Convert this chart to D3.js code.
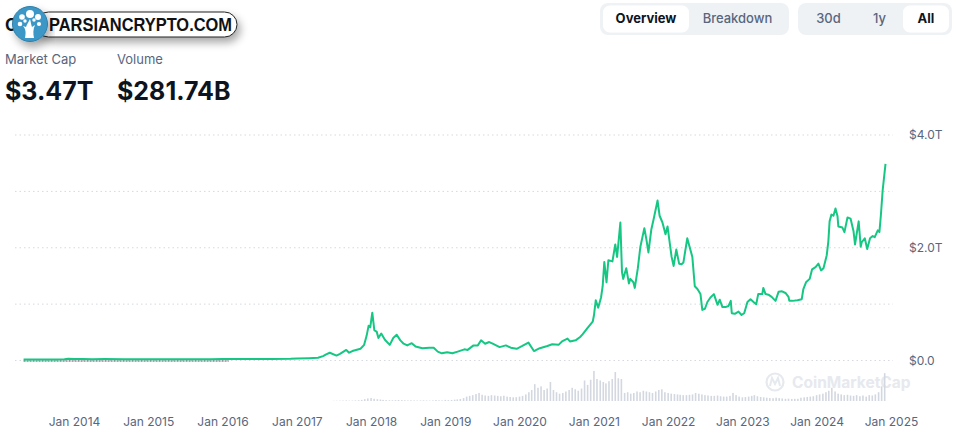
<!DOCTYPE html>
<html>
<head>
<meta charset="utf-8">
<script src="https://cdn.jsdelivr.net/npm/d3@7"></script>
<style>
  body { margin: 0; background: #fff; font-family: Inter, "Noto Sans", sans-serif; }
</style>
</head>
<body>
<svg id="chart" width="956" height="442"></svg>
<script>
// total market cap, trillions of USD
const marketCap = [
  ["2013-04-28", 0.0015], ["2013-07-01", 0.0012], ["2013-10-01", 0.0018], ["2013-11-15", 0.006],
  ["2013-12-04", 0.015], ["2014-01-01", 0.010], ["2014-02-15", 0.009], ["2014-04-01", 0.006],
  ["2014-06-01", 0.008], ["2014-09-01", 0.006], ["2014-12-01", 0.0055], ["2015-01-15", 0.0035],
  ["2015-06-01", 0.0035], ["2015-11-05", 0.006], ["2016-01-01", 0.007], ["2016-06-15", 0.011],
  ["2016-09-01", 0.0095], ["2016-12-01", 0.012], ["2017-01-01", 0.018], ["2017-03-01", 0.023],
  ["2017-04-15", 0.03], ["2017-05-10", 0.06], ["2017-05-25", 0.09], ["2017-06-12", 0.12],
  ["2017-07-15", 0.07], ["2017-08-01", 0.10], ["2017-09-01", 0.17], ["2017-09-15", 0.12],
  ["2017-10-01", 0.15], ["2017-11-10", 0.19], ["2017-11-28", 0.26], ["2017-12-10", 0.42],
  ["2017-12-20", 0.60], ["2017-12-28", 0.57], ["2018-01-07", 0.83], ["2018-01-17", 0.52],
  ["2018-01-29", 0.49], ["2018-02-06", 0.38], ["2018-02-20", 0.46], ["2018-03-10", 0.35],
  ["2018-04-03", 0.26], ["2018-04-20", 0.38], ["2018-05-07", 0.44], ["2018-05-25", 0.34],
  ["2018-06-10", 0.28], ["2018-06-28", 0.25], ["2018-07-20", 0.29], ["2018-08-08", 0.23],
  ["2018-09-10", 0.20], ["2018-10-15", 0.21], ["2018-11-05", 0.21], ["2018-11-25", 0.14],
  ["2018-12-15", 0.11], ["2019-01-10", 0.13], ["2019-02-05", 0.11], ["2019-03-03", 0.14],
  ["2019-04-05", 0.18], ["2019-04-21", 0.17], ["2019-05-20", 0.25], ["2019-06-10", 0.25],
  ["2019-06-26", 0.34], ["2019-07-16", 0.28], ["2019-08-05", 0.31], ["2019-08-22", 0.28],
  ["2019-09-25", 0.22], ["2019-10-26", 0.25], ["2019-11-19", 0.21], ["2019-12-18", 0.19],
  ["2020-01-15", 0.24], ["2020-02-14", 0.30], ["2020-03-12", 0.15], ["2020-03-19", 0.16],
  ["2020-04-10", 0.20], ["2020-05-17", 0.24], ["2020-06-10", 0.27], ["2020-07-11", 0.26],
  ["2020-07-28", 0.32], ["2020-08-24", 0.37], ["2020-09-05", 0.32], ["2020-10-03", 0.34],
  ["2020-10-25", 0.40], ["2020-11-07", 0.45], ["2020-12-01", 0.56], ["2020-12-26", 0.67],
  ["2021-01-01", 0.78], ["2021-01-10", 1.05], ["2021-01-22", 0.92], ["2021-02-05", 1.10],
  ["2021-02-13", 1.30], ["2021-02-21", 1.73], ["2021-03-04", 1.37], ["2021-03-13", 1.76],
  ["2021-04-02", 1.74], ["2021-04-16", 2.04], ["2021-04-25", 1.82], ["2021-05-11", 2.43],
  ["2021-05-19", 1.55], ["2021-05-25", 1.43], ["2021-06-09", 1.62], ["2021-06-22", 1.35],
  ["2021-06-29", 1.43], ["2021-07-14", 1.37], ["2021-07-21", 1.27], ["2021-08-05", 1.62],
  ["2021-08-17", 1.99], ["2021-09-06", 2.33], ["2021-09-16", 2.13], ["2021-09-26", 1.90],
  ["2021-10-10", 2.30], ["2021-10-21", 2.48], ["2021-11-10", 2.82], ["2021-11-20", 2.55],
  ["2021-12-04", 2.43], ["2021-12-19", 2.22], ["2021-12-29", 2.36], ["2022-01-18", 1.82],
  ["2022-01-28", 1.66], ["2022-02-10", 1.95], ["2022-02-24", 1.70], ["2022-03-08", 1.69],
  ["2022-03-17", 1.72], ["2022-04-05", 2.15], ["2022-04-20", 1.95], ["2022-04-30", 1.82],
  ["2022-05-12", 1.30], ["2022-05-25", 1.25], ["2022-06-09", 1.16], ["2022-06-18", 0.88],
  ["2022-07-01", 0.90], ["2022-07-13", 1.02], ["2022-07-28", 1.10], ["2022-08-14", 1.16],
  ["2022-09-01", 0.97], ["2022-09-12", 1.06], ["2022-09-25", 0.93], ["2022-10-10", 0.93],
  ["2022-10-25", 0.95], ["2022-11-05", 1.04], ["2022-11-10", 0.82], ["2022-11-25", 0.81],
  ["2022-12-13", 0.85], ["2022-12-28", 0.79], ["2023-01-10", 0.82], ["2023-01-26", 1.02],
  ["2023-02-10", 1.07], ["2023-02-25", 1.02], ["2023-03-10", 0.98], ["2023-03-20", 1.16],
  ["2023-04-09", 1.16], ["2023-04-14", 1.27], ["2023-04-25", 1.16], ["2023-05-09", 1.15],
  ["2023-05-25", 1.11], ["2023-06-13", 1.04], ["2023-06-28", 1.20], ["2023-07-15", 1.21],
  ["2023-08-01", 1.18], ["2023-08-16", 1.11], ["2023-08-20", 1.04], ["2023-09-05", 1.04],
  ["2023-09-29", 1.05], ["2023-10-20", 1.07], ["2023-10-28", 1.25], ["2023-11-10", 1.37],
  ["2023-11-28", 1.43], ["2023-12-10", 1.60], ["2023-12-27", 1.64], ["2024-01-10", 1.70],
  ["2024-01-23", 1.58], ["2024-02-04", 1.62], ["2024-02-20", 1.85], ["2024-02-28", 2.10],
  ["2024-03-05", 2.45], ["2024-03-14", 2.57], ["2024-03-24", 2.55], ["2024-04-03", 2.68],
  ["2024-04-13", 2.54], ["2024-04-17", 2.36], ["2024-05-07", 2.34], ["2024-05-17", 2.26],
  ["2024-06-01", 2.52], ["2024-06-16", 2.50], ["2024-07-01", 2.27], ["2024-07-08", 2.04],
  ["2024-07-26", 2.45], ["2024-08-05", 2.00], ["2024-08-10", 2.08], ["2024-08-25", 2.15],
  ["2024-09-06", 1.96], ["2024-09-20", 2.15], ["2024-10-03", 2.19], ["2024-10-13", 2.17],
  ["2024-10-28", 2.29], ["2024-11-05", 2.26], ["2024-11-12", 2.55], ["2024-11-21", 3.00],
  ["2024-12-05", 3.47]
];

// trading volume, billions of USD, read twice a month (1st and 16th) from Jul 2017
const volumeStart = "2017-07-01";
const volumeValues = [
  3, 4, 5, 6, 8, 5, 6, 8, 10, 15, 25, 35,
  40, 30, 25, 20, 15, 12, 10, 10, 12, 14, 12, 10, 8, 9, 8, 7, 8, 9, 7, 6, 8, 12, 9, 8,
  15, 12, 14, 18, 22, 28, 40, 60, 70, 80, 95, 110, 85, 75, 70, 80, 75, 70, 65, 72, 60, 55, 50, 52,
  60, 70, 90, 120, 150, 230, 180, 200, 150, 170, 260, 150, 120, 100, 110, 130, 150, 180, 160, 140, 170, 280, 220, 290,
  410, 300, 280, 260, 240, 270, 300, 395, 310, 300, 110, 120, 100, 110, 130, 120, 140, 130, 120, 110, 130, 150, 160, 120,
  110, 100, 95, 90, 85, 80, 80, 85, 90, 110, 100, 90, 80, 75, 70, 70, 75, 65, 60, 60, 70, 110, 80, 60,
  50, 55, 60, 70, 80, 65, 55, 50, 45, 40, 38, 45, 40, 35, 30, 32, 28, 30, 30, 45, 50, 55, 60, 65,
  80, 90, 100, 120, 140, 180, 130, 100, 90, 80, 85, 75, 70, 80, 65, 75, 60, 80, 75, 90, 120, 200, 380
];

const yearTicks = [2014, 2015, 2016, 2017, 2018, 2019, 2020, 2021, 2022, 2023, 2024, 2025];
const capLabels = [0, 2, 4];
const capGrid = [0, 1, 2, 3, 4];
const summaryLabels = ["Market Cap", "Volume"];
const summaryValues = ["$3.47T", "$281.74B"];
const viewTabs = ["Overview", "Breakdown"];
const rangeTabs = ["30d", "1y", "All"];

const parse = d3.timeParse("%Y-%m-%d");
const capData = marketCap.map(d => ({ date: parse(d[0]), value: d[1] }));
const volData = volumeValues.map((v, i) => {
  const d = d3.timeMonth.offset(parse(volumeStart), Math.floor(i / 2));
  d.setDate(i % 2 ? 16 : 1);
  return { date: d, value: v };
});

const svg = d3.select("#chart");
const grey = "#58667e";

const x = d3.scaleTime()
  .domain([new Date(2014, 0, 1), new Date(2025, 0, 1)])
  .range([74, 891]);
const y = d3.scaleLinear().domain([0, 4]).range([360.5, 135]);
const yVol = d3.scaleLinear().domain([0, 450]).range([401, 368]);

// grid lines
svg.append("g").selectAll("line").data(capGrid).join("line")
  .attr("x1", 15).attr("x2", 893)
  .attr("y1", d => y(d)).attr("y2", d => y(d))
  .attr("stroke", "#d5d9e0").attr("stroke-width", 1)
  .attr("stroke-dasharray", "1.5,3");

// watermark
const wm = svg.append("g");
wm.append("circle").attr("cx", 775).attr("cy", 382).attr("r", 8.5)
  .attr("fill", "none").attr("stroke", "#e6e9ee").attr("stroke-width", 2.2);
wm.append("path").attr("d", "M770,386 L772,378 L775,384 L778,378 L780,386")
  .attr("fill", "none").attr("stroke", "#e6e9ee").attr("stroke-width", 2);
wm.append("text").attr("x", 792).attr("y", 388)
  .attr("font-size", 15.5).attr("font-weight", 700).attr("fill", "#e6e9ee")
  .text("CoinMarketCap");

// volume bars
svg.append("g").selectAll("rect").data(volData).join("rect")
  .attr("x", d => x(d.date) - 0.8)
  .attr("width", 1.6)
  .attr("y", d => yVol(d.value))
  .attr("height", d => yVol(0) - yVol(d.value))
  .attr("fill", "#d3d8e0");

// early baseline
svg.append("line")
  .attr("x1", x(capData[0].date)).attr("x2", x(new Date(2016, 1, 1)))
  .attr("y1", y(0) + 0.5).attr("y2", y(0) + 0.5)
  .attr("stroke", "#4a4f57").attr("stroke-width", 1.2)
  .attr("stroke-dasharray", "2,1");

// market cap line
svg.append("path").datum(capData)
  .attr("fill", "none")
  .attr("stroke", "#16c784")
  .attr("stroke-width", 2)
  .attr("stroke-linejoin", "round")
  .attr("d", d3.line().x(d => x(d.date)).y(d => y(d.value) - 1));

// x axis
const xAxis = svg.append("g")
  .attr("transform", "translate(0,414)")
  .call(d3.axisBottom(x)
    .tickValues(yearTicks.map(yr => new Date(yr, 0, 1)))
    .tickFormat(d3.timeFormat("Jan %Y"))
    .tickSize(0));
xAxis.select(".domain").remove();
xAxis.selectAll("text").attr("font-family", "Inter, sans-serif")
  .attr("font-size", 12).attr("fill", grey);

// y axis
const yAxis = svg.append("g")
  .attr("transform", "translate(906,0)")
  .call(d3.axisRight(y)
    .tickValues(capLabels)
    .tickFormat(d => d === 0 ? "$0.0" : "$" + d.toFixed(1) + "T")
    .tickSize(0));
yAxis.select(".domain").remove();
yAxis.selectAll("text").attr("font-family", "Inter, sans-serif")
  .attr("font-size", 12).attr("fill", grey);

// summary numbers
const sx = [5, 117];
summaryLabels.forEach((t, i) => {
  svg.append("text").attr("x", sx[i]).attr("y", 64)
    .attr("font-size", 13).attr("fill", grey).text(t);
  svg.append("text").attr("x", sx[i]).attr("y", 100)
    .attr("font-size", 25).attr("font-weight", 700).attr("fill", "#0d1421")
    .text(summaryValues[i]);
});

// tabs
function tabGroup(labels, x0, widths, active) {
  const total = d3.sum(widths) + 6;
  svg.append("rect").attr("x", x0).attr("y", 3).attr("width", total).attr("height", 32)
    .attr("rx", 8).attr("fill", "#eff2f5");
  let cx = x0 + 3;
  labels.forEach((t, i) => {
    if (i === active) {
      svg.append("rect").attr("x", cx).attr("y", 5.5).attr("width", widths[i]).attr("height", 27)
        .attr("rx", 7).attr("fill", "#fff");
    }
    svg.append("text").attr("x", cx + widths[i] / 2).attr("y", 23)
      .attr("text-anchor", "middle").attr("font-size", 13)
      .attr("font-weight", i === active ? 700 : 500)
      .attr("fill", i === active ? "#0d1421" : grey).text(t);
    cx += widths[i];
  });
}
tabGroup(viewTabs, 600, [86, 97], 0);
tabGroup(rangeTabs, 798, [55, 47, 46], 2);

// title, mostly hidden behind the logo
svg.append("text").attr("x", 5).attr("y", 31)
  .attr("font-size", 17).attr("font-weight", 700).attr("fill", "#0d1421")
  .text("C");

// logo pill
const defs = svg.append("defs");
const f = defs.append("filter").attr("id", "sh").attr("x", "-20%").attr("y", "-50%")
  .attr("width", "140%").attr("height", "220%");
f.append("feDropShadow").attr("dx", 3).attr("dy", 5).attr("stdDeviation", 4)
  .attr("flood-color", "#000").attr("flood-opacity", 0.35);

const logo = svg.append("g");
logo.append("rect").attr("x", 36).attr("y", 12).attr("width", 201).attr("height", 25)
  .attr("rx", 12.5).attr("fill", "#fff").attr("stroke", "#222").attr("stroke-width", 1)
  .attr("filter", "url(#sh)");
logo.append("text").attr("x", 49).attr("y", 31)
  .attr("font-family", "'Liberation Sans', Arial, sans-serif")
  .attr("font-size", 18).attr("font-weight", 700).attr("fill", "#111")
  .attr("textLength", 183).attr("lengthAdjust", "spacingAndGlyphs")
  .text("PARSIANCRYPTO.COM");
logo.append("circle").attr("cx", 30).attr("cy", 24).attr("r", 17.5)
  .attr("fill", "#3d97c6").attr("stroke", "#2c7fab").attr("stroke-width", 1)
  .attr("filter", "url(#sh)");
logo.append("path")
  .attr("d", "M25,38 C26,33 26,29 23,26 L26,27 C27,24 29,21 30,19 C31,22 31,25 32,27 L35,25 C33,29 33,34 34,38 Z")
  .attr("fill", "#fff");
[[30, 14, 4], [22, 17, 2.8], [38, 17, 3], [20, 24, 2.3], [39, 24, 2.1], [25, 21, 1.7], [34, 20, 1.7]]
  .forEach(c => logo.append("circle").attr("cx", c[0]).attr("cy", c[1]).attr("r", c[2]).attr("fill", "#fff"));
</script>
</body>
</html>
